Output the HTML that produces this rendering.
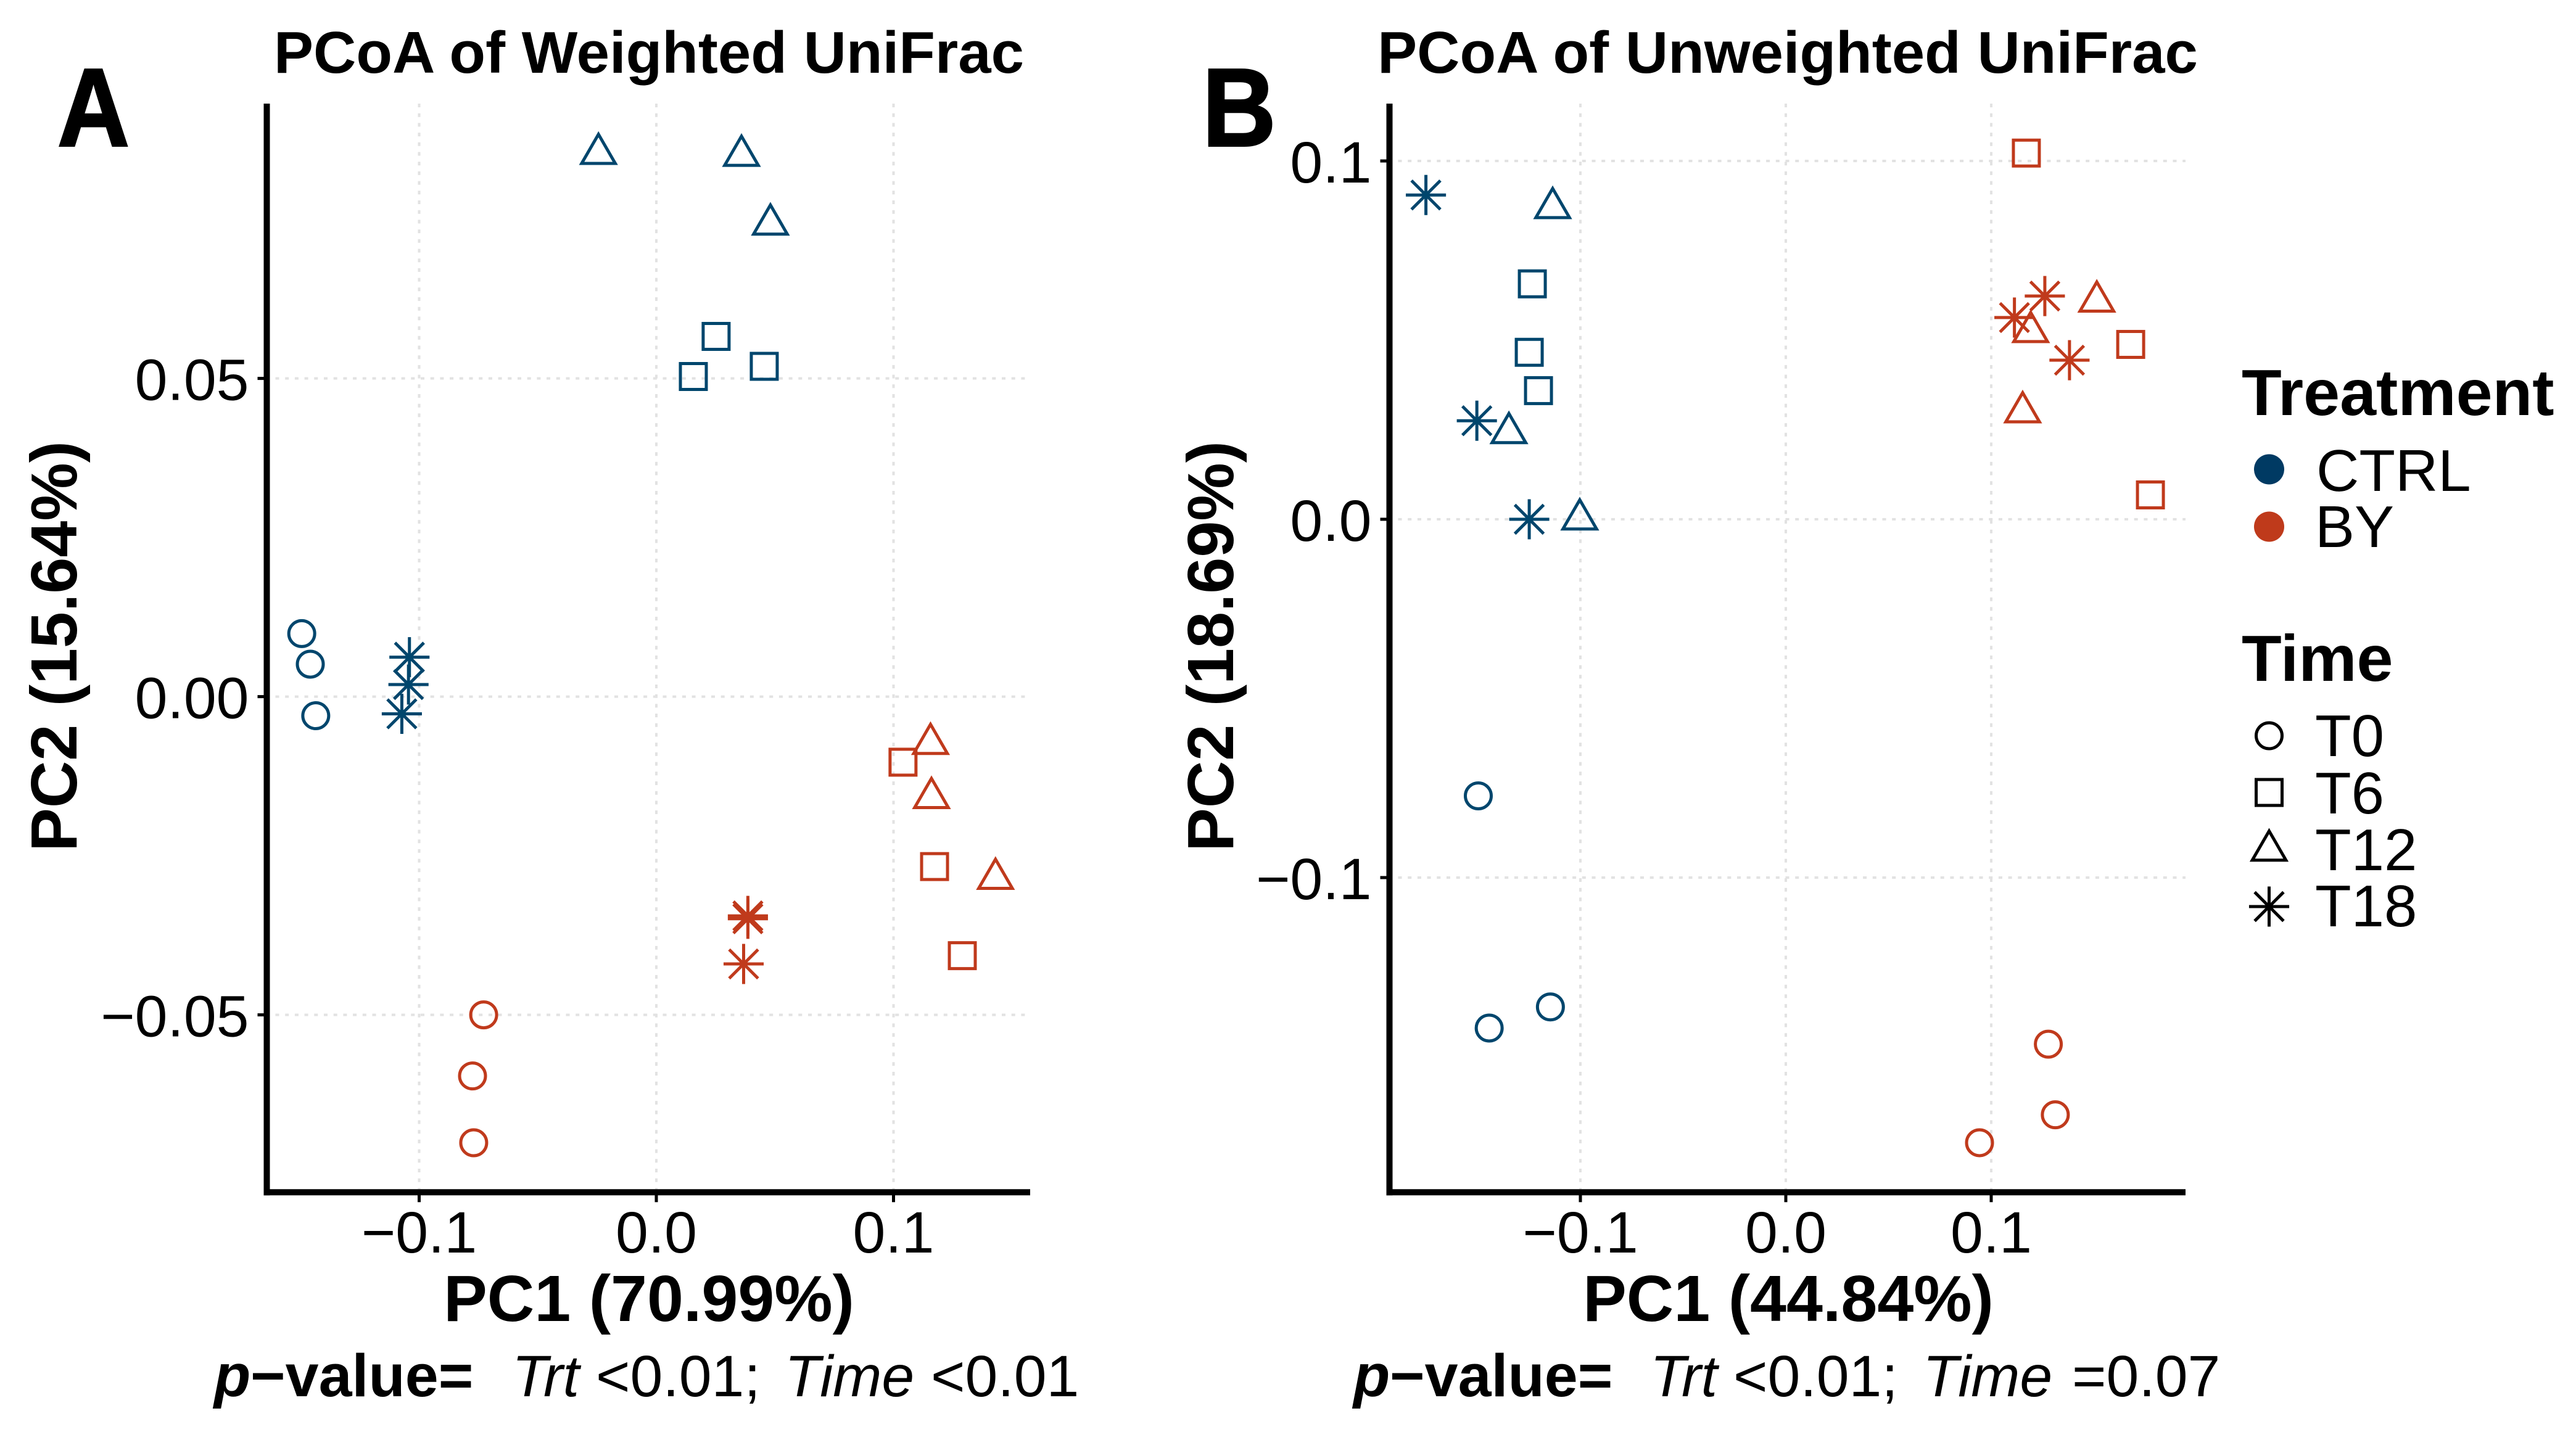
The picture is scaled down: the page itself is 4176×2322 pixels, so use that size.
<!DOCTYPE html>
<html lang="en">
<head>
<meta charset="utf-8">
<title>PCoA of Weighted and Unweighted UniFrac</title>
<style>
html,body{margin:0;padding:0;background:#fff;width:4176px;height:2322px;overflow:hidden}
svg{display:block}
text{font-family:"Liberation Sans",sans-serif;fill:#000}
.b{font-weight:700}
.i{font-style:italic}
</style>
</head>
<body>
<svg id="chart" xmlns="http://www.w3.org/2000/svg" width="4176" height="2322" viewBox="0 0 4176 2322">
  <rect x="0" y="0" width="4176" height="2322" fill="#fff"/>
  <g id="panelA"></g>
  <g id="panelB"></g>

  <text class="b" transform="translate(93 236.5) scale(.9 1)" font-size="180" stroke="#000" stroke-width="3">A</text>
  <text class="b" transform="translate(1949 236.5) scale(.92 1)" font-size="180" stroke="#000" stroke-width="3">B</text>

  <text class="b" x="1052" y="118" font-size="96" text-anchor="middle">PCoA of Weighted UniFrac</text>
  <text class="b" x="2898" y="118" font-size="96" text-anchor="middle">PCoA of Unweighted UniFrac</text>

  <text class="b" x="1052" y="2142" font-size="106" text-anchor="middle">PC1 (70.99%)</text>
  <text class="b" x="2899" y="2142" font-size="106" text-anchor="middle">PC1 (44.84%)</text>
  <text class="b" transform="translate(124 1048) rotate(-90)" font-size="106" text-anchor="middle">PC2 (15.64%)</text>
  <text class="b" transform="translate(1999 1048) rotate(-90)" font-size="106" text-anchor="middle">PC2 (18.69%)</text>

  <g font-size="95">
    <text class="b i" font-size="97" x="347" y="2264">p</text>
    <text class="b" font-size="97" x="406" y="2264">−value=</text>
    <text class="i" x="830" y="2264">Trt</text>
    <text x="966" y="2264">&lt;0.01;</text>
    <text class="i" x="1272" y="2264">Time</text>
    <text x="1509" y="2264">&lt;0.01</text>
  </g>
  <g font-size="95">
    <text class="b i" font-size="97" x="2194" y="2264">p</text>
    <text class="b" font-size="97" x="2253" y="2264">−value=</text>
    <text class="i" x="2675" y="2264">Trt</text>
    <text x="2810" y="2264">&lt;0.01;</text>
    <text class="i" x="3117" y="2264">Time</text>
    <text x="3359" y="2264">=0.07</text>
  </g>

  <g id="legend">
    <text class="b" x="3634" y="673" font-size="106">Treatment</text>
    <circle cx="3678.5" cy="761" r="24.5" fill="#003a63"/>
    <text x="3755" y="796" font-size="96">CTRL</text>
    <circle cx="3678.5" cy="854" r="24.5" fill="#bf3a1b"/>
    <text x="3753" y="887" font-size="96">BY</text>
    <text class="b" x="3634" y="1104" font-size="106">Time</text>
    <text x="3753" y="1226" font-size="96">T0</text>
    <text x="3753" y="1319" font-size="96">T6</text>
    <text x="3753" y="1411" font-size="96">T12</text>
    <text x="3753" y="1502" font-size="96">T18</text>
  </g>
</svg>

<script>
// ---- Panel A: Weighted UniFrac, [PC1, PC2] for each sample ----
const weightedCtrlT0 = [[-0.1495, 0.0099], [-0.1459, 0.0051], [-0.1436, -0.0030]];
const weightedCtrlT6 = [[0.0156, 0.0503], [0.0252, 0.0566], [0.0455, 0.0519]];
const weightedCtrlT12 = [[-0.0244, 0.0853], [0.0359, 0.0850], [0.0481, 0.0742]];
const weightedCtrlT18 = [[-0.1041, 0.0062], [-0.1045, 0.0019], [-0.1073, -0.0027]];
const weightedByT0 = [[-0.0728, -0.0500], [-0.0775, -0.0596], [-0.0770, -0.0701]];
const weightedByT6 = [[0.1040, -0.0103], [0.1173, -0.0267], [0.1290, -0.0407]];
const weightedByT12 = [[0.1156, -0.0074], [0.1160, -0.0159], [0.1430, -0.0286]];
const weightedByT18 = [[0.0386, -0.03445], [0.0386, -0.0349], [0.0368, -0.0420]];

// ---- Panel B: Unweighted UniFrac, [PC1, PC2] for each sample ----
const unweightedCtrlT0 = [[-0.1497, -0.0772], [-0.1444, -0.1420], [-0.1146, -0.1361]];
const unweightedCtrlT6 = [[-0.1234, 0.0657], [-0.1249, 0.0466], [-0.1204, 0.0359]];
const unweightedCtrlT12 = [[-0.1135, 0.0869], [-0.1348, 0.0241], [-0.1003, 0.0000]];
const unweightedCtrlT18 = [[-0.1752, 0.0905], [-0.1504, 0.0275], [-0.1249, 0.0000]];
const unweightedByT0 = [[0.1278, -0.1465], [0.1312, -0.1662], [0.0943, -0.1740]];
const unweightedByT6 = [[0.1171, 0.1022], [0.1679, 0.0488], [0.1775, 0.0068]];
const unweightedByT12 = [[0.1514, 0.0608], [0.1192, 0.0523], [0.1153, 0.0299]];
const unweightedByT18 = [[0.1261, 0.0623], [0.1113, 0.0563], [0.1381, 0.0444]];

// ---- Ticks ----
const weightedXTicks = [-0.1, 0.0, 0.1];
const weightedXTickLabels = ['−0.1', '0.0', '0.1'];
const weightedYTicks = [-0.05, 0.00, 0.05];
const weightedYTickLabels = ['−0.05', '0.00', '0.05'];
const unweightedXTicks = [-0.1, 0.0, 0.1];
const unweightedXTickLabels = ['−0.1', '0.0', '0.1'];
const unweightedYTicks = [-0.1, 0.0, 0.1];
const unweightedYTickLabels = ['−0.1', '0.0', '0.1'];

const treatmentNames = ['CTRL', 'BY'];
const timeNames = ['T0', 'T6', 'T12', 'T18'];

const NS = 'http://www.w3.org/2000/svg';
const treatmentColor = { CTRL: '#00466d', BY: '#c03a1c' };
const MARKER_STROKE = 5;

function make(tag, attrs, parent) {
  const el = document.createElementNS(NS, tag);
  for (const k in attrs) el.setAttribute(k, attrs[k]);
  parent.appendChild(el);
  return el;
}

// Axis functions
function xWeighted(v) { return 1064 + 3845 * v; }
function yWeighted(v) { return 1129.6 - 10320 * v; }
function xUnweighted(v) { return 2895 + 3330 * v; }
function yUnweighted(v) { return 842 - 5810 * v; }

function drawMarker(parent, time, cx, cy, color, r) {
  const g = make('g', { fill: 'none', stroke: color, 'stroke-width': MARKER_STROKE, 'stroke-linejoin': 'miter' }, parent);
  if (time === 'T0') {
    make('circle', { cx: cx, cy: cy, r: r }, g);
  } else if (time === 'T6') {
    make('rect', { x: cx - r, y: cy - r, width: 2 * r, height: 2 * r }, g);
  } else if (time === 'T12') {
    const R = r * 1.5, w = R * 0.866;
    make('polygon', { points: cx + ',' + (cy - R) + ' ' + (cx + w) + ',' + (cy + R / 2) + ' ' + (cx - w) + ',' + (cy + R / 2) }, g);
  } else {
    const a = r * 1.55, d = a * 0.72;
    make('path', { d: 'M' + (cx - a) + ' ' + cy + 'H' + (cx + a) + 'M' + cx + ' ' + (cy - a) + 'V' + (cy + a) +
      'M' + (cx - d) + ' ' + (cy - d) + 'L' + (cx + d) + ' ' + (cy + d) + 'M' + (cx - d) + ' ' + (cy + d) + 'L' + (cx + d) + ' ' + (cy - d) }, g);
  }
  return g;
}

function drawPanel(cfg) {
  const root = document.getElementById(cfg.id);
  const grid = make('g', { stroke: '#e2e2e2', 'stroke-width': 4, 'stroke-dasharray': '6 9.7', fill: 'none' }, root);
  
  

  cfg.xTicks.forEach(function (t, i) {
    const px = cfg.x(t);
    const gl = make('line', { x1: px, x2: px, y1: cfg.top, y2: cfg.bottom }, grid);
    
    
    const tk = make('line', { x1: px, x2: px, y1: cfg.bottom, y2: cfg.bottom + 16, stroke: '#000', 'stroke-width': 5 }, root);
    
    
    const lb = make('text', { x: px, y: 2031, 'font-size': 95, 'text-anchor': 'middle' }, root);
    lb.textContent = cfg.xLabels[i];
    
    
  });

  cfg.yTicks.forEach(function (t, i) {
    const py = cfg.y(t);
    const gl = make('line', { x1: cfg.left + 14, x2: cfg.right, y1: py, y2: py }, grid);
    
    
    const tk = make('line', { x1: cfg.left - 15, x2: cfg.left, y1: py, y2: py, stroke: '#000', 'stroke-width': 5 }, root);
    
    
    const lb = make('text', { x: cfg.left - 29, y: py + 35, 'font-size': 95, 'text-anchor': 'end' }, root);
    lb.textContent = cfg.yLabels[i];
    
    
  });

  const yAxis = make('line', { x1: cfg.left, x2: cfg.left, y1: cfg.top, y2: cfg.bottom + 5, stroke: '#000', 'stroke-width': 10 }, root);
  
  
  const xAxis = make('line', { x1: cfg.left - 5, x2: cfg.right, y1: cfg.bottom, y2: cfg.bottom, stroke: '#000', 'stroke-width': 10 }, root);
  
  

  treatmentNames.forEach(function (tr, ti) {
    timeNames.forEach(function (tm, mi) {
      cfg.series[ti][mi].forEach(function (pt) {
        const m = drawMarker(root, tm, cfg.x(pt[0]), cfg.y(pt[1]), treatmentColor[tr], 21);
        
        
      });
    });
  });
}

drawPanel({
  id: 'panelA', prefix: 'panel-a', left: 432.5, right: 1670, top: 168, bottom: 1933.3,
  x: xWeighted, y: yWeighted,
  xTicks: weightedXTicks, xLabels: weightedXTickLabels,
  yTicks: weightedYTicks, yLabels: weightedYTickLabels,
  series: [[weightedCtrlT0, weightedCtrlT6, weightedCtrlT12, weightedCtrlT18],
           [weightedByT0, weightedByT6, weightedByT12, weightedByT18]]
});

drawPanel({
  id: 'panelB', prefix: 'panel-b', left: 2252.5, right: 3543, top: 168, bottom: 1933.3,
  x: xUnweighted, y: yUnweighted,
  xTicks: unweightedXTicks, xLabels: unweightedXTickLabels,
  yTicks: unweightedYTicks, yLabels: unweightedYTickLabels,
  series: [[unweightedCtrlT0, unweightedCtrlT6, unweightedCtrlT12, unweightedCtrlT18],
           [unweightedByT0, unweightedByT6, unweightedByT12, unweightedByT18]]
});

// Legend shape keys
const legendRoot = document.getElementById('legend');
const legendRows = [1193, 1285, 1379, 1470];
timeNames.forEach(function (tm, i) {
  const key = drawMarker(legendRoot, tm, 3678.5, legendRows[i], '#000', 21);
  
  
});
</script>
</body>
</html>
